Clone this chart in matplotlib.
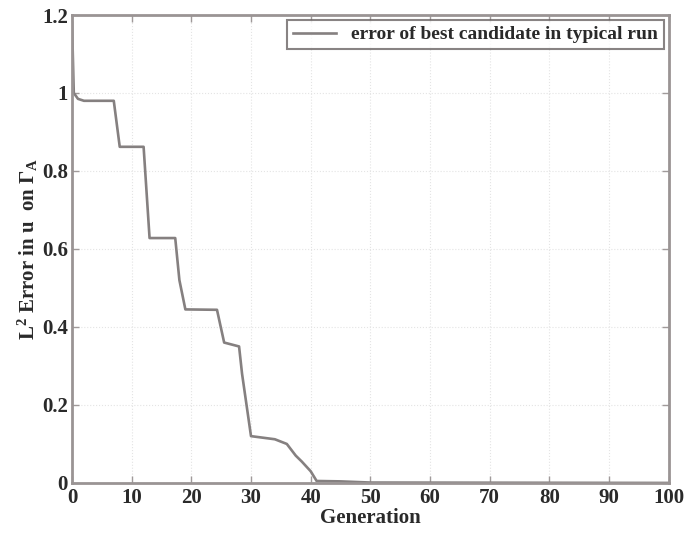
import numpy as np
import matplotlib.pyplot as plt

# best-candidate error per generation
generation = [0, 0.3, 1, 2, 7, 8, 12, 13, 17.3, 18, 19, 24.3, 25.5, 28, 28.5, 30,
              34, 36, 37.5, 38.5, 40, 41, 45, 50, 100]
error = [1.18, 1.0, 0.985, 0.98, 0.98, 0.862, 0.862, 0.628, 0.628, 0.52, 0.445,
         0.444, 0.36, 0.35, 0.28, 0.12, 0.112, 0.10, 0.07, 0.055, 0.03, 0.005,
         0.004, 0.001, 0.0]

xticks = [0, 10, 20, 30, 40, 50, 60, 70, 80, 90, 100]
xticklabels = ["0", "10", "20", "30", "40", "50", "60", "70", "80", "90", "100"]
yticks = [0, 0.2, 0.4, 0.6, 0.8, 1.0, 1.2]
yticklabels = ["0", "0.2", "0.4", "0.6", "0.8", "1", "1.2"]

plt.rcParams['font.family'] = ['Liberation Serif', 'DejaVu Serif']
plt.rcParams['mathtext.fontset'] = 'custom'
plt.rcParams['mathtext.rm'] = 'Liberation Serif:bold'
plt.rcParams['mathtext.it'] = 'Liberation Serif:bold'
plt.rcParams['mathtext.bf'] = 'Liberation Serif:bold'

fig = plt.figure(figsize=(6.89, 5.36), dpi=100)
ax = fig.add_axes([0.1045, 0.099, 0.866, 0.873])

ax.plot(generation, error, color='#858080', lw=1.9,
        label='error of best candidate in typical run')

ax.set_xlim(0, 100)
ax.set_ylim(0, 1.2)
ax.set_xticks(xticks)
ax.set_xticklabels(xticklabels)
ax.set_yticks(yticks)
ax.set_yticklabels(yticklabels)
ax.tick_params(direction='in', length=5, width=1, color='#a09a9a',
               top=True, right=True, labelsize=15)
ax.tick_params(axis='x', pad=4)
ax.tick_params(axis='y', pad=3)
for lab in ax.get_xticklabels() + ax.get_yticklabels():
    lab.set_fontweight('bold')
    lab.set_color('#2a2a2a')

ax.grid(True, ls=':', lw=0.8, color='#e4e4e4')
for sp in ax.spines.values():
    sp.set_color('#9a9494')
    sp.set_linewidth(2)

ax.set_xlabel('Generation', fontsize=15, fontweight='bold', color='#2a2a2a', labelpad=0)
ax.set_ylabel(r'L$^2$ Error in u  on $\Gamma_A$', fontsize=15, fontweight='bold',
              color='#2a2a2a', labelpad=1)

leg = ax.legend(loc='upper right', frameon=True, fancybox=False,
                borderaxespad=0.25, handlelength=2.2, borderpad=0.3,
                prop={'weight': 'bold', 'size': 14})
leg.get_frame().set_edgecolor('#6a6464')
leg.get_frame().set_linewidth(1.5)
for t in leg.get_texts():
    t.set_color('#2a2a2a')

fig.savefig('out.png', dpi=100)
